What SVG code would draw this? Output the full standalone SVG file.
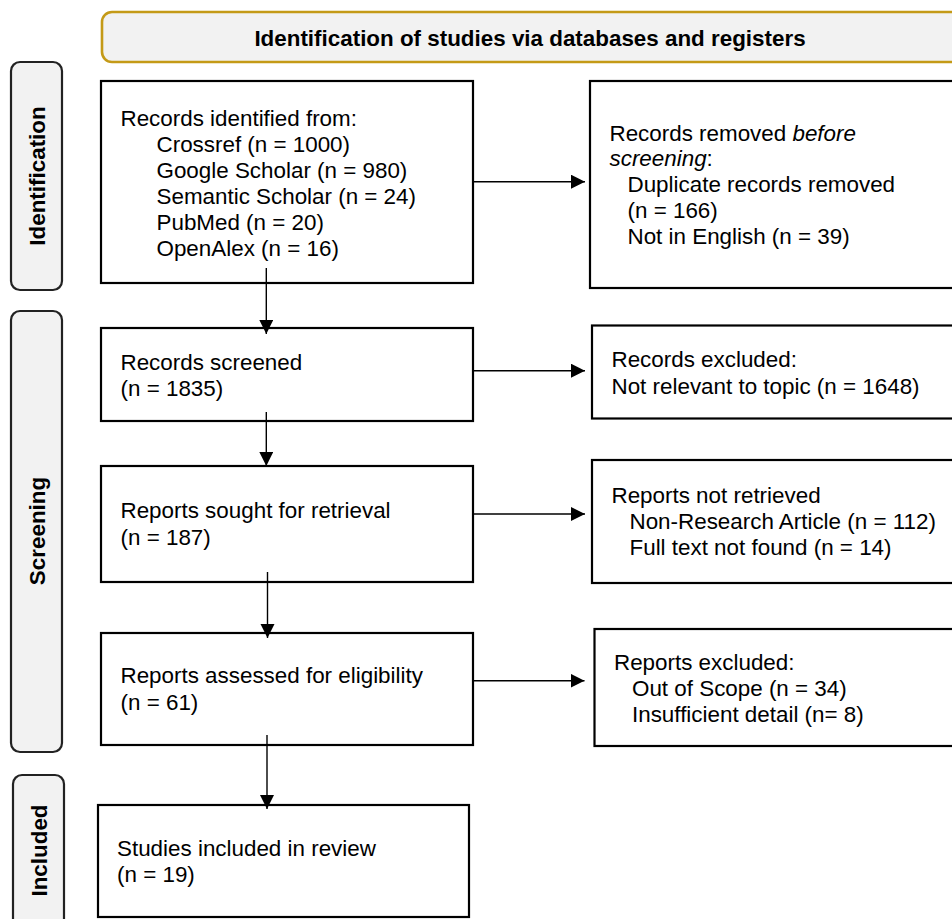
<svg xmlns="http://www.w3.org/2000/svg" width="952" height="919" viewBox="0 0 952 919">
<defs>
<style>
text{font-family:"Liberation Sans",Arial,sans-serif;font-size:22.4px;fill:#000}
.b{font-weight:bold}
.box{fill:#fff;stroke:#000;stroke-width:2.2}
.phase{fill:#f2f2f2;stroke:#222;stroke-width:2.2}
.hdr{fill:#f2f2f2;stroke:#C49A17;stroke-width:2.6}
.c{fill:none;stroke:#000;stroke-width:1.4}
</style>
<marker id="ah" markerUnits="userSpaceOnUse" markerWidth="16" markerHeight="16" refX="14" refY="7" orient="auto">
<path d="M0,0 L14,7 L0,14 Z" fill="#000"/>
</marker>
</defs>
<rect width="952" height="919" fill="#fff"/>
<g id="header">
<rect class="hdr" x="102" y="12" width="880" height="50" rx="10"/>
<text class="b" x="530" y="46" text-anchor="middle">Identification of studies via databases and registers</text>
</g>
<g id="phase-identification">
<rect class="phase" x="11" y="62" width="51" height="228" rx="9"/>
<text class="b" transform="translate(45,176) rotate(-90)" text-anchor="middle">Identification</text>
</g>
<g id="phase-screening">
<rect class="phase" x="11" y="311" width="51" height="441" rx="9"/>
<text class="b" transform="translate(45,531) rotate(-90)" text-anchor="middle">Screening</text>
</g>
<g id="phase-included">
<rect class="phase" x="13" y="775" width="51" height="180" rx="9"/>
<text class="b" transform="translate(46.5,850.5) rotate(-90)" text-anchor="middle">Included</text>
</g>
<g id="records-identified">
<rect class="box" x="101" y="81" width="372" height="202"/>
<text x="120.5" y="126">Records identified from:</text>
<text x="156.5" y="152">Crossref (n = 1000)</text>
<text x="156.5" y="178">Google Scholar (n = 980)</text>
<text x="156.5" y="204">Semantic Scholar (n = 24)</text>
<text x="156.5" y="230">PubMed (n = 20)</text>
<text x="156.5" y="256">OpenAlex (n = 16)</text>
</g>
<g id="records-removed">
<rect class="box" x="590" y="81" width="400" height="207"/>
<text x="609.5" y="140.5">Records removed <tspan font-style="italic">before</tspan></text>
<text x="609.5" y="166"><tspan font-style="italic">screening</tspan>:</text>
<text x="627.5" y="192">Duplicate records removed</text>
<text x="627.5" y="217.5">(n = 166)</text>
<text x="627.5" y="243.5">Not in English (n = 39)</text>
</g>
<g id="records-screened">
<rect class="box" x="101" y="328" width="372" height="93"/>
<text x="120.5" y="369.5">Records screened</text>
<text x="120.5" y="396">(n = 1835)</text>
</g>
<g id="records-excluded">
<rect class="box" x="592" y="325.5" width="400" height="93"/>
<text x="611.5" y="367">Records excluded:</text>
<text x="611.5" y="393.5">Not relevant to topic (n = 1648)</text>
</g>
<g id="reports-sought">
<rect class="box" x="101" y="466" width="372" height="116"/>
<text x="120.5" y="518">Reports sought for retrieval</text>
<text x="120.5" y="545">(n = 187)</text>
</g>
<g id="reports-not-retrieved">
<rect class="box" x="592" y="460" width="400" height="123"/>
<text x="611.5" y="502.5">Reports not retrieved</text>
<text x="629.5" y="528.5">Non-Research Article (n = 112)</text>
<text x="629.5" y="554.5">Full text not found (n = 14)</text>
</g>
<g id="reports-assessed">
<rect class="box" x="101" y="633" width="372" height="112"/>
<text x="120.5" y="683">Reports assessed for eligibility</text>
<text x="120.5" y="709.5">(n = 61)</text>
</g>
<g id="reports-excluded">
<rect class="box" x="594.5" y="629" width="400" height="117"/>
<text x="614" y="669.5">Reports excluded:</text>
<text x="632" y="696">Out of Scope (n = 34)</text>
<text x="632" y="722">Insufficient detail (n= 8)</text>
</g>
<g id="studies-included">
<rect class="box" x="98" y="805" width="371" height="112"/>
<text x="117" y="856">Studies included in review</text>
<text x="117" y="882">(n = 19)</text>
</g>
<g id="connectors">
<path class="c" d="M266.3,268 V334" marker-end="url(#ah)"/>
<path class="c" d="M266.3,412 V466" marker-end="url(#ah)"/>
<path class="c" d="M267.5,572 V638" marker-end="url(#ah)"/>
<path class="c" d="M267,735 V809" marker-end="url(#ah)"/>
<path class="c" d="M474,181.7 H585" marker-end="url(#ah)"/>
<path class="c" d="M473,370.7 H585" marker-end="url(#ah)"/>
<path class="c" d="M473,514 H585" marker-end="url(#ah)"/>
<path class="c" d="M473,680.7 H584.5" marker-end="url(#ah)"/>
</g>
</svg>
